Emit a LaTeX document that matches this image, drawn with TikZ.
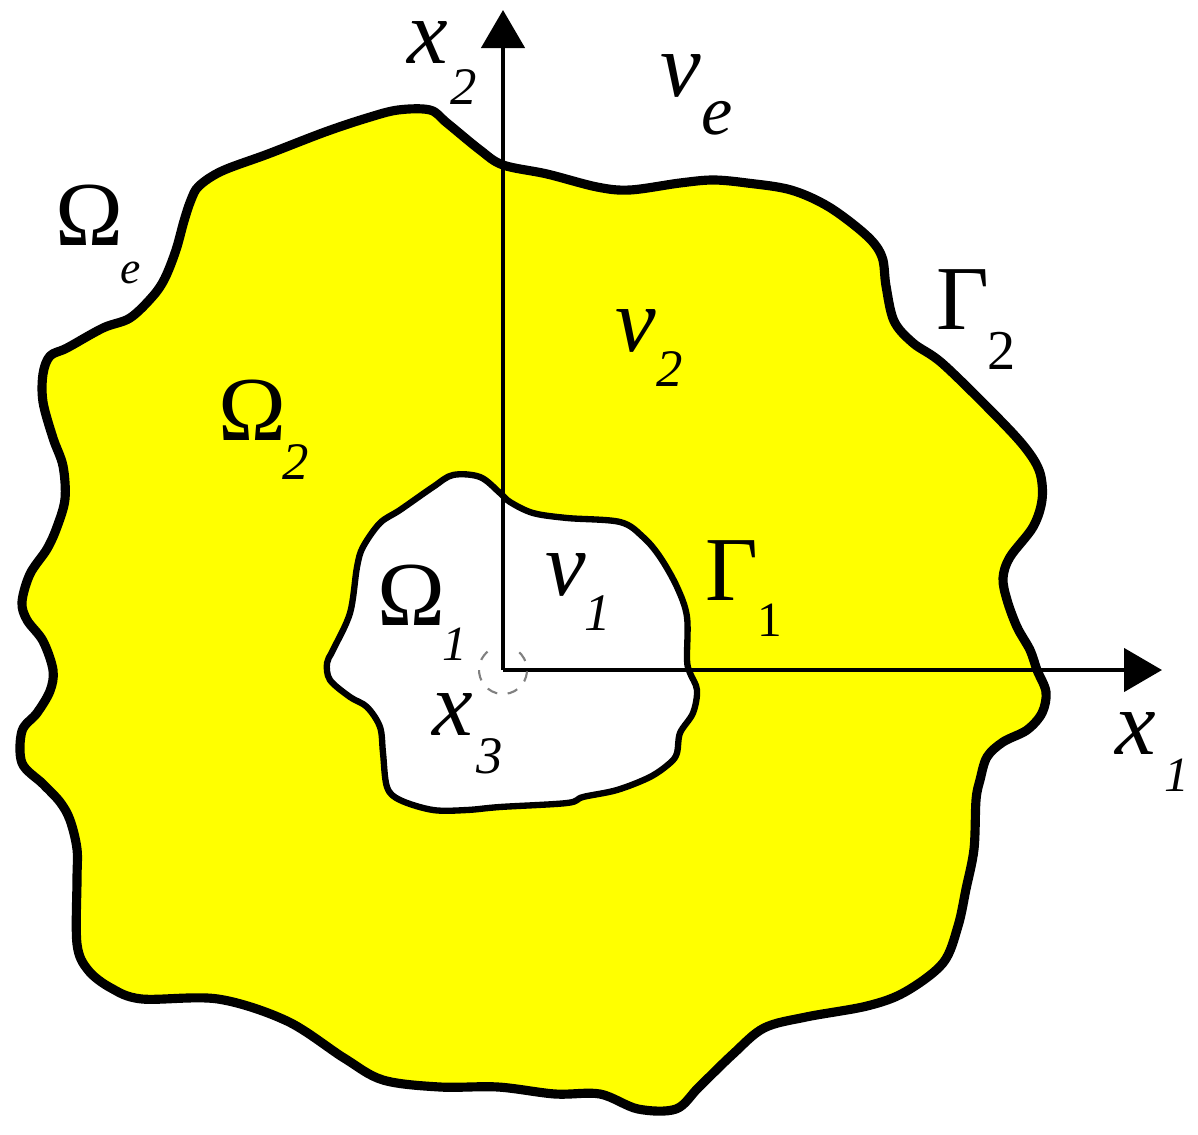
\documentclass[tikz,border=0pt]{standalone}
\usepackage{fontspec}
\setmainfont{Liberation Serif}
\usetikzlibrary{arrows.meta}
\definecolor{fieldyellow}{RGB}{255,255,0}
\newcommand{\idx}[5]{#1\kern#2\raisebox{-#3}{\fontsize{#4}{#4}\selectfont #5}}

\begin{document}
\begin{tikzpicture}[x=0.01cm, y=-0.01cm,
    region/.style={line width=2.6pt, line join=round, fill=fieldyellow},
    hole/.style={line width=1.8pt, line join=round, fill=white},
    axis/.style={line width=1.3pt, -{Triangle[length=0.38cm, width=0.43cm]}},
    lab/.style={anchor=base west, inner sep=0pt, font=\fontsize{26}{26}\selectfont}]
    \useasboundingbox (0,0) rectangle (1198,1134);

    \draw[region] plot[smooth cycle, tension=0.55] coordinates {
        (503,165) (547,174) (597,187) (630,190) (680,183) (713,180) (747,183)
        (791,190) (829,207) (867,236) (882,257) (886,286) (894,321) (913,343)
        (943,364) (1000,420) (1027,450) (1040,473) (1042,500) (1033,527)
        (1010,557) (1003,578) (1007,600) (1017,627) (1030,650) (1037,670)
        (1046,692) (1042,713) (1027,730) (1003,742) (987,757) (980,780)
        (976,800) (974,849) (966,889) (958,926) (943,963) (905,992) (867,1006)
        (806,1017) (764,1028) (733,1054) (699,1087) (676,1109) (638,1109)
        (600,1094) (555,1094) (498,1087) (440,1087) (383,1080) (344,1058)
        (287,1021) (218,999) (142,999) (111,988) (88,970) (77,944) (77,880)
        (77,849) (70,820) (60,802) (43,784) (22,763) (22,731) (37,713)
        (50,691) (53,670) (43,641) (27,620) (22,602) (30,574) (47,549)
        (57,527) (65,499) (63,466) (53,438) (43,402) (43,374) (50,356)
        (67,348) (103,328) (130,318) (153,296) (165,278) (176,250) (184,221)
        (191,200) (199,186) (222,171) (268,154) (325,132) (367,118) (398,110)
        (430,110) (447,123) (480,150)};

    \draw[hole] plot[smooth cycle, tension=0.55] coordinates {
        (500,493) (510,502) (533,513) (567,518) (620,522) (643,537) (660,557)
        (677,587) (687,617) (687,660) (690,673) (697,690) (693,713) (680,733)
        (677,753) (670,763) (650,777) (617,790) (583,797) (567,803) (500,807)
        (467,810) (433,810) (400,800) (387,787) (383,753) (380,727) (367,707)
        (350,697) (330,680) (327,663) (333,650) (350,613) (357,567) (363,547)
        (380,523) (400,510) (433,487) (453,475) (480,477)};

    \coordinate (O) at (503,670);
    \coordinate (X1) at (1162,670);
    \coordinate (X2) at (503,10);
    \draw[axis] (O) -- (X1);
    \draw[axis] (O) -- (X2);
    \draw[gray, dashed, line width=0.6pt] (O) ++(130:0.24cm)
        arc[start angle=130, end angle=430, radius=0.24cm];

    \node[lab] (x2lab) at (407,64) {\itshape\smash{\idx{x}{0.6pt}{11.4pt}{15}{2}}};
    \node[lab] (velab) at (660,97) {\itshape\idx{v}{0pt}{10.8pt}{20}{e}};
    \node[lab] (Oelab) at (55,246) {\idx{Ω}{-0.8pt}{10.8pt}{13}{\itshape e}};
    \node[lab] (O2lab) at (218,441) {\idx{Ω}{-1.2pt}{11pt}{15}{\itshape 2}};
    \node[lab] (G2lab) at (936,330) {\idx{Γ}{-0.6pt}{11.1pt}{16}{2}};
    \node[lab] (v2lab) at (615,352) {\itshape\idx{v}{0pt}{9.7pt}{15}{2}};
    \node[lab] (O1lab) at (377,625) {\idx{Ω}{-0.8pt}{10.2pt}{14}{\itshape 1}};
    \node[lab] (v1lab) at (545,595) {\itshape\idx{v}{-0.6pt}{10pt}{15}{1}};
    \node[lab] (G1lab) at (705,600) {\idx{Γ}{-0.3pt}{10.5pt}{14}{1}};
    \node[lab] (x3lab) at (432,735) {\itshape\idx{x}{0.8pt}{11pt}{15}{3}};
    \node[lab] (x1lab) at (1115,754) {\itshape\idx{x}{2.3pt}{10.8pt}{14}{1}};
\end{tikzpicture}
\end{document}
